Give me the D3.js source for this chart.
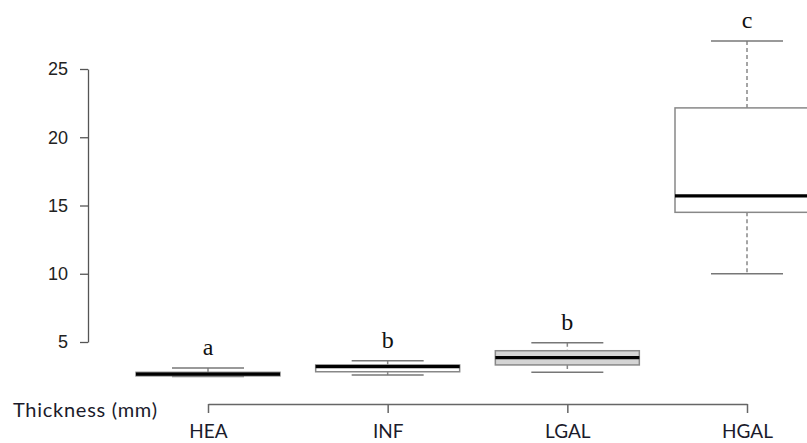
<!DOCTYPE html>
<html>
<head>
<meta charset="utf-8">
<script src="https://cdn.jsdelivr.net/npm/d3@7"></script>
<style>
  body { margin: 0; background: #fff; }
</style>
</head>
<body>
<div id="chart"></div>
<script>
const groups = ["HEA", "INF", "LGAL", "HGAL"];
const mins    = [2.48, 2.58, 2.78, 10.0];
const q1s     = [2.52, 2.82, 3.32, 14.5];
const medians = [2.65, 3.19, 3.85, 15.7];
const q3s     = [2.78, 3.32, 4.36, 22.15];
const maxs    = [3.1, 3.63, 4.95, 27.05];
const letters = ["a", "b", "b", "c"];
const fills   = ["#ffffff", "#ffffff", "#d4d4d4", "#ffffff"];
const yTicks  = [5, 10, 15, 20, 25];

const width = 807, height = 443;

const svg = d3.select("#chart")
  .append("svg")
    .attr("width", width)
    .attr("height", height);

const data = groups.map((g, i) => ({
  group: g, min: mins[i], q1: q1s[i], median: medians[i], q3: q3s[i], max: maxs[i],
  letter: letters[i], fill: fills[i]
}));

const x = d3.scalePoint()
  .domain(groups)
  .range([208, 747]);

const y = d3.scaleLinear()
  .domain([5, 25])
  .range([342, 69]);

const boxW = 144, capW = 72;

// y axis
const yAxis = svg.append("g")
  .attr("transform", "translate(88,0)")
  .call(d3.axisLeft(y).tickValues(yTicks).tickSize(8).tickSizeOuter(0).tickPadding(12));
yAxis.select(".domain").attr("stroke", "#555").attr("stroke-width", 1.3);
yAxis.selectAll(".tick line").attr("stroke", "#555").attr("stroke-width", 1.3);
yAxis.selectAll("text")
  .style("font-family", "Liberation Sans, Arial, sans-serif")
  .style("font-size", "18px")
  .attr("fill", "#222");

// x axis
const xAxis = svg.append("g")
  .attr("transform", "translate(0,404)")
  .call(d3.axisBottom(x).tickSize(9).tickSizeOuter(0));
xAxis.select(".domain").attr("stroke", "#666").attr("stroke-width", 1.5);
xAxis.selectAll(".tick line").attr("stroke", "#666").attr("stroke-width", 1.5);
xAxis.selectAll("text")
  .attr("y", 34)
  .attr("dy", 0)
  .style("font-family", "Lato, sans-serif")
  .style("font-size", "19px")
  .attr("fill", "#1b1b2b");

svg.append("text")
  .attr("x", 13)
  .attr("y", 417)
  .attr("textLength", 144)
  .attr("lengthAdjust", "spacing")
  .style("font-family", "Lato, sans-serif")
  .style("font-size", "20px")
  .attr("fill", "#1b1b2b")
  .text("Thickness (mm)");

const box = svg.append("g").selectAll("g")
  .data(data)
  .enter()
  .append("g");

// whiskers
box.append("line")
  .attr("x1", d => x(d.group)).attr("x2", d => x(d.group))
  .attr("y1", d => y(d.max)).attr("y2", d => y(d.q3))
  .attr("stroke", "#888").attr("stroke-width", 1.5)
  .attr("stroke-dasharray", "4,3");
box.append("line")
  .attr("x1", d => x(d.group)).attr("x2", d => x(d.group))
  .attr("y1", d => y(d.q1)).attr("y2", d => y(d.min))
  .attr("stroke", "#888").attr("stroke-width", 1.5)
  .attr("stroke-dasharray", "4,3");

// caps
box.append("line")
  .attr("x1", d => x(d.group) - capW / 2).attr("x2", d => x(d.group) + capW / 2)
  .attr("y1", d => y(d.max)).attr("y2", d => y(d.max))
  .attr("stroke", "#777").attr("stroke-width", 1.5);
box.append("line")
  .attr("x1", d => x(d.group) - capW / 2).attr("x2", d => x(d.group) + capW / 2)
  .attr("y1", d => y(d.min)).attr("y2", d => y(d.min))
  .attr("stroke", "#777").attr("stroke-width", 1.5);

// boxes
box.append("rect")
  .attr("x", d => x(d.group) - boxW / 2)
  .attr("y", d => y(d.q3))
  .attr("width", boxW)
  .attr("height", d => y(d.q1) - y(d.q3))
  .attr("fill", d => d.fill)
  .attr("stroke", "#888")
  .attr("stroke-width", 1.5);

// medians
box.append("line")
  .attr("x1", d => x(d.group) - boxW / 2).attr("x2", d => x(d.group) + boxW / 2)
  .attr("y1", d => y(d.median)).attr("y2", d => y(d.median))
  .attr("stroke", "#000").attr("stroke-width", 3.2);

// significance letters
box.append("text")
  .attr("x", d => x(d.group))
  .attr("y", d => y(d.max) - 13)
  .attr("text-anchor", "middle")
  .style("font-family", "Liberation Serif, Times New Roman, serif")
  .style("font-size", "24px")
  .attr("fill", "#111")
  .text(d => d.letter);
</script>
</body>
</html>
